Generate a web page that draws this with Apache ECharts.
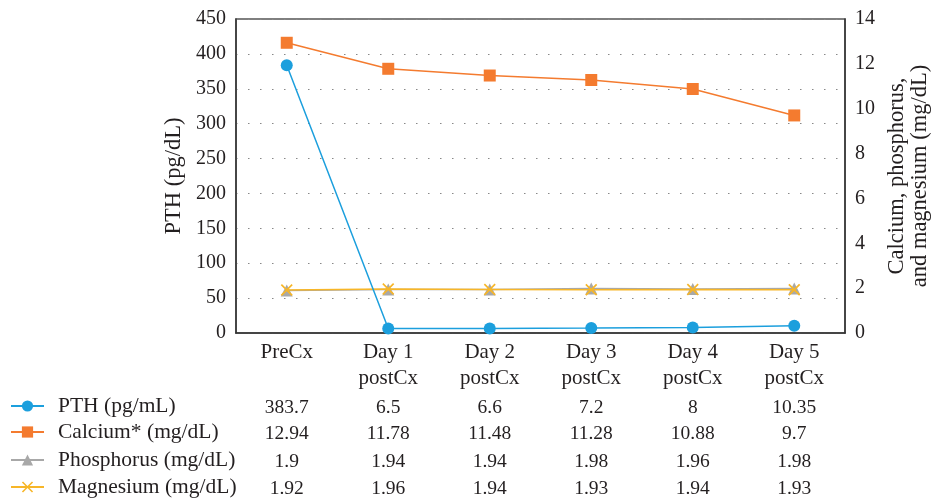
<!DOCTYPE html>
<html><head><meta charset="utf-8">
<script src="https://cdn.jsdelivr.net/npm/echarts@6/dist/echarts.min.js"></script>
<style>html,body{margin:0;padding:0;background:#fff}#c{width:932px;height:500px}</style>
</head><body><div id="c"></div>
<script>
const categories = ['PreCx', 'Day 1\npostCx', 'Day 2\npostCx', 'Day 3\npostCx', 'Day 4\npostCx', 'Day 5\npostCx'];
const pth = [383.7, 6.5, 6.6, 7.2, 8, 10.35];
const calcium = [12.94, 11.78, 11.48, 11.28, 10.88, 9.7];
const phosphorus = [1.9, 1.94, 1.94, 1.98, 1.96, 1.98];
const magnesium = [1.92, 1.96, 1.94, 1.93, 1.94, 1.93];
const pthLabels = ['383.7', '6.5', '6.6', '7.2', '8', '10.35'];
const calciumLabels = ['12.94', '11.78', '11.48', '11.28', '10.88', '9.7'];
const phosphorusLabels = ['1.9', '1.94', '1.94', '1.98', '1.96', '1.98'];
const magnesiumLabels = ['1.92', '1.96', '1.94', '1.93', '1.94', '1.93'];
const seriesNames = ['PTH (pg/mL)', 'Calcium* (mg/dL)', 'Phosphorus (mg/dL)', 'Magnesium (mg/dL)'];

const FONT = 'Liberation Serif';
const TXT = '#231f20';
const xMark = 'path://M0,1L1,0L5,4L9,0L10,1L6,5L10,9L9,10L5,6L1,10L0,9L4,5Z';
const rowOffsets = [65, 91, 119, 146];
const rowCenters = [406, 432, 460, 487];

function rowAxis(labels, offset) {
  return {
    type: 'category', data: categories, gridIndex: 0, position: 'bottom', offset: offset,
    axisLine: {show: false}, axisTick: {show: false}, splitLine: {show: false},
    axisLabel: {margin: 0, fontFamily: FONT, fontSize: 19.5, color: TXT, lineHeight: 20, interval: 0,
      verticalAlign: 'top', formatter: (v, i) => labels[i]}
  };
}

function legendRow(i) {
  return {
    orient: 'vertical', left: 10, top: rowCenters[i] - 11, padding: 0, itemWidth: 33, itemHeight: 14,
    data: [seriesNames[i]],
    textStyle: {fontFamily: FONT, fontSize: 21.5, color: TXT, lineHeight: 14, padding: [0, 0, 0, 9]}
  };
}

const chart = echarts.init(document.getElementById('c'));
chart.setOption({
  animation: false,
  grid: {left: 236, right: 87, top: 19, bottom: 167, show: true, borderColor: '#555', borderWidth: 1.5,
    backgroundColor: 'transparent', outerBoundsMode: 'none', containLabel: false},
  legend: [legendRow(0), legendRow(1), legendRow(2), legendRow(3)],
  xAxis: [
    {
      type: 'category', data: categories, boundaryGap: true,
      axisLine: {lineStyle: {color: '#333', width: 1.5}}, axisTick: {show: false},
      axisLabel: {margin: 6, fontFamily: FONT, fontSize: 21, color: TXT, lineHeight: 26, interval: 0, verticalAlign: 'top'}
    },
    rowAxis(pthLabels, rowOffsets[0]),
    rowAxis(calciumLabels, rowOffsets[1]),
    rowAxis(phosphorusLabels, rowOffsets[2]),
    rowAxis(magnesiumLabels, rowOffsets[3])
  ],
  yAxis: [
    {
      type: 'value', min: 0, max: 450, interval: 50, position: 'left',
      name: 'PTH (pg/dL)', nameLocation: 'middle', nameGap: 49,
      nameTextStyle: {fontFamily: FONT, fontSize: 22.5, color: TXT},
      axisLine: {show: true, lineStyle: {color: '#333', width: 1.5}}, axisTick: {show: false},
      axisLabel: {margin: 10, fontFamily: FONT, fontSize: 20, color: TXT},
      splitLine: {show: true, lineStyle: {color: '#888', width: 1.2, type: [1.5, 10.5]}}
    },
    {
      type: 'value', min: 0, max: 14, interval: 2, position: 'right',
      name: 'Calcium, phosphorus,\nand magnesium (mg/dL)', nameLocation: 'middle', nameGap: 40, nameRotate: 90,
      nameTextStyle: {fontFamily: FONT, fontSize: 22.5, color: TXT, lineHeight: 23},
      axisLine: {show: true, lineStyle: {color: '#333', width: 1.5}}, axisTick: {show: false},
      axisLabel: {margin: 10, fontFamily: FONT, fontSize: 20, color: TXT},
      splitLine: {show: false}
    }
  ],
  series: [
    {name: seriesNames[0], type: 'line', yAxisIndex: 0, data: pth, symbol: 'circle', symbolSize: 12,
      itemStyle: {color: '#1c9fdd'}, lineStyle: {color: '#1c9fdd', width: 1.5}, z: 5},
    {name: seriesNames[1], type: 'line', yAxisIndex: 1, data: calcium, symbol: 'rect', symbolSize: 12,
      itemStyle: {color: '#f47b2f'}, lineStyle: {color: '#f47b2f', width: 1.5}, z: 4},
    {name: seriesNames[2], type: 'line', yAxisIndex: 1, data: phosphorus, symbol: 'triangle', symbolSize: 12,
      itemStyle: {color: '#a8a8a8'}, lineStyle: {color: '#a8a8a8', width: 1.5}, z: 2},
    {name: seriesNames[3], type: 'line', yAxisIndex: 1, data: magnesium, symbol: xMark, symbolSize: 12,
      itemStyle: {color: '#f7b628'}, lineStyle: {color: '#f7b628', width: 1.5}, z: 3}
  ]
});
</script></body></html>
